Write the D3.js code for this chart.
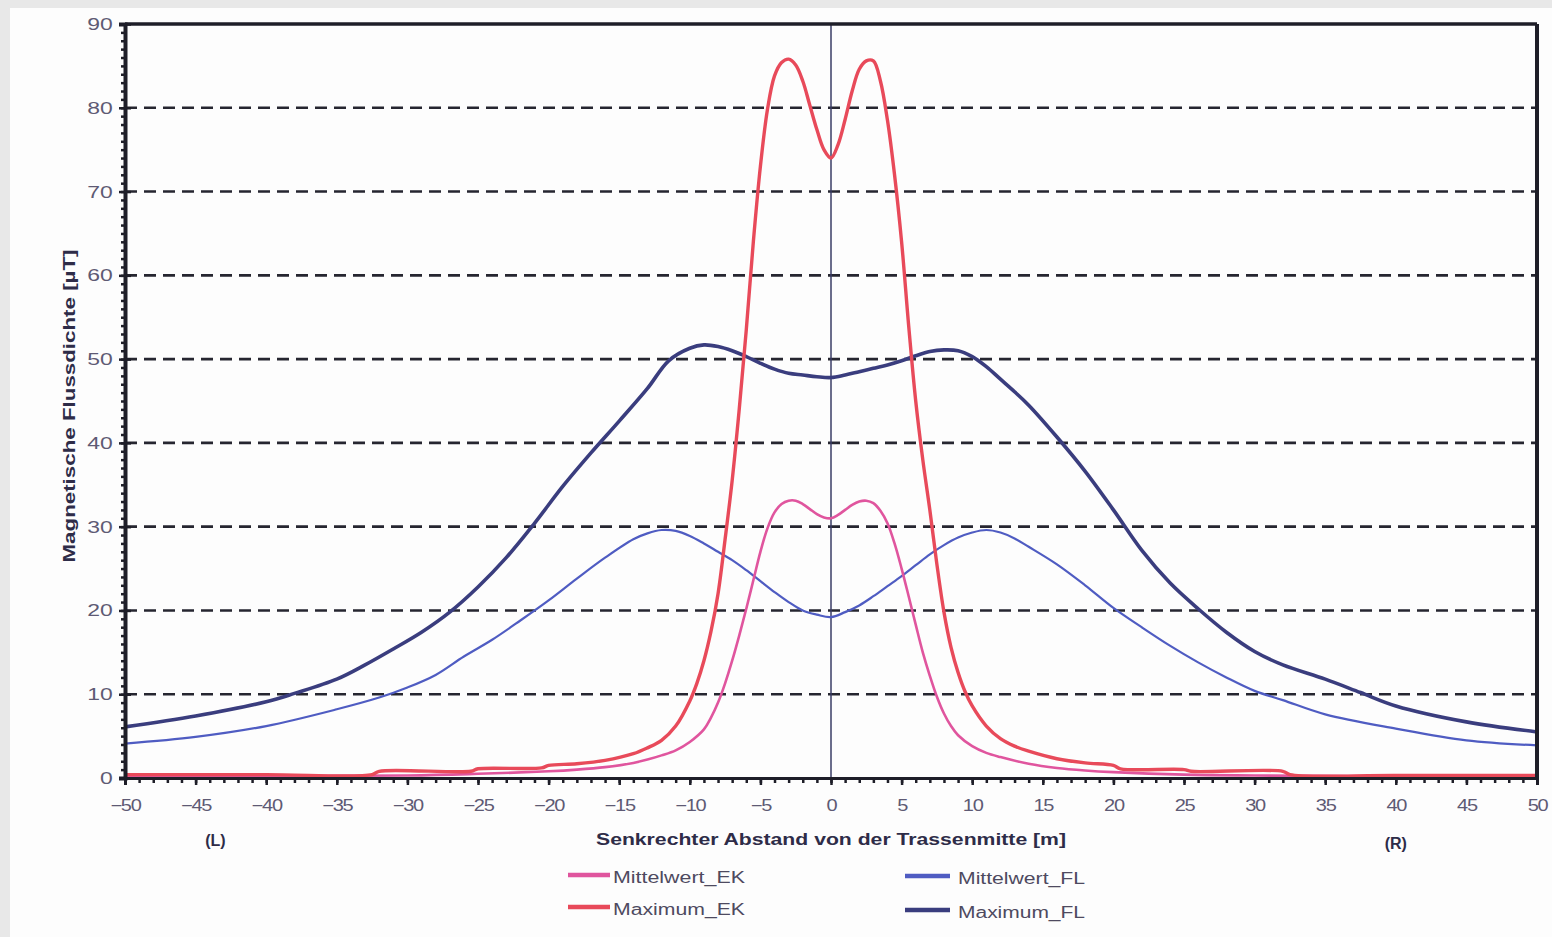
<!DOCTYPE html>
<html>
<head>
<meta charset="utf-8">
<script src="https://cdn.jsdelivr.net/npm/d3@7"></script>
<style>
  body { margin: 0; background: #e8e8e8; }
  svg { display: block; }
  text { font-family: "Liberation Sans", Arial, sans-serif; }
</style>
</head>
<body>
<svg id="chart" width="1552" height="937"></svg>
<script>
const width = 1552, height = 937;
const margin = { left: 125, top: 24, right: 15, bottom: 159 };

// x ticks and y ticks as printed
const xTicks = [-50, -45, -40, -35, -30, -25, -20, -15, -10, -5, 0, 5, 10, 15, 20, 25, 30, 35, 40, 45, 50];
const yTicks = [0, 10, 20, 30, 40, 50, 60, 70, 80, 90];
const gridValues = [10, 20, 30, 40, 50, 60, 70, 80];

// Mittelwert_EK
const mittelEkX = [-50, -30, -25, -20, -18, -16, -14, -13, -12, -11, -10, -9, -8.5, -8, -7.5, -7, -6.5, -6, -5.5, -5, -4.5, -4, -3.5, -3, -2.5, -2, -1.5, -1, -0.5, 0, 0.5, 1, 1.5, 2, 2.5, 3, 3.5, 4, 4.5, 5, 5.5, 6, 6.5, 7, 7.5, 8, 8.5, 9, 10, 11, 12, 14, 16, 18, 20, 25, 30, 40, 50];
const mittelEkY = [0.2, 0.3, 0.5, 0.8, 1.0, 1.3, 1.8, 2.2, 2.7, 3.3, 4.3, 5.8, 7.2, 9, 11.3, 14, 17, 20.2, 23.6, 27, 29.8, 31.7, 32.7, 33.1, 33.1, 32.7, 32.1, 31.5, 31.1, 31.0, 31.4, 32.0, 32.6, 33.0, 33.1, 32.8, 31.9, 30.4, 28, 25, 21.7, 18.3, 15, 12.2, 9.7, 7.7, 6.2, 5.1, 3.8, 3.0, 2.5, 1.7, 1.2, 0.9, 0.7, 0.4, 0.3, 0.2, 0.2];

// Maximum_EK
const maxEkX = [-50, -40, -32.5, -32, -25.5, -25, -20.5, -20, -18, -16, -14, -13, -12, -11, -10, -9.5, -9, -8.5, -8, -7.5, -7, -6.5, -6, -5.5, -5, -4.5, -4, -3.5, -3, -2.5, -2, -1.5, -1, -0.5, 0, 0.5, 1, 1.5, 2, 2.5, 3, 3.5, 4, 4.5, 5, 5.5, 6, 6.5, 7, 7.5, 8, 8.5, 9, 9.5, 10, 11, 12, 13, 14, 16, 18, 20, 20.5, 25, 25.5, 32, 32.5, 40, 50];
const maxEkY = [0.4, 0.4, 0.4, 0.8, 0.8, 1.1, 1.2, 1.5, 1.7, 2.1, 2.9, 3.6, 4.5, 6.2, 9.2, 11.3, 14, 17.5, 22, 28.5, 35.5, 44, 53.5, 64, 73, 79.8, 83.8, 85.4, 85.8, 85.1, 83.2, 80.3, 77.4, 75, 74, 75.6, 78.6, 82, 84.6, 85.6, 85.6, 83.2, 78.5, 72, 64, 54, 45, 38, 32, 25.5, 19.8, 15.6, 12.6, 10.3, 8.6, 6.2, 4.7, 3.8, 3.2, 2.3, 1.8, 1.5, 1.1, 1.0, 0.8, 0.8, 0.4, 0.3, 0.3];

// Mittelwert_FL
const mittelFlX = [-50, -45, -40, -35, -32, -30, -28, -26, -24, -22, -20, -18, -16, -14, -13, -12, -11, -10, -9, -8, -7, -6, -5, -4, -3, -2, -1, 0, 1, 2, 3, 4, 5, 6, 7, 8, 9, 10, 11, 12, 13, 14, 16, 18, 20, 22, 24, 26, 28, 30, 32, 35, 40, 45, 50];
const mittelFlY = [4.1, 4.9, 6.2, 8.2, 9.6, 10.8, 12.3, 14.5, 16.5, 18.8, 21.2, 23.8, 26.3, 28.5, 29.2, 29.6, 29.5, 28.9, 28, 27, 26, 24.8, 23.5, 22.2, 21, 20, 19.5, 19.2, 19.8, 20.6, 21.7, 22.9, 24.1, 25.4, 26.7, 27.8, 28.7, 29.3, 29.6, 29.3, 28.6, 27.6, 25.5, 23, 20.3, 18, 15.8, 13.8, 12, 10.4, 9.3, 7.6, 5.9, 4.5, 3.9];

// Maximum_FL
const maxFlX = [-50, -45, -40, -38, -35, -33, -31, -29, -27, -25, -23, -21, -19, -17, -15, -13, -11.5, -10, -9, -8, -7, -6, -5, -4, -3, -2, -1, 0, 1, 2, 3, 4, 5, 6, 7, 8, 9, 10, 11, 12, 13, 14, 16, 18, 20, 22, 24, 26, 28, 30, 32, 35, 37.5, 40, 45, 50];
const maxFlY = [6.1, 7.4, 9.1, 10.1, 11.8, 13.5, 15.4, 17.4, 19.8, 22.8, 26.3, 30.4, 34.8, 38.8, 42.6, 46.5, 49.8, 51.3, 51.7, 51.5, 51, 50.3, 49.5, 48.8, 48.3, 48.1, 47.9, 47.8, 48.1, 48.5, 48.9, 49.3, 49.8, 50.4, 50.9, 51.1, 51, 50.3, 49.1, 47.6, 46.1, 44.5, 40.7, 36.6, 32, 27.2, 23.3, 20.2, 17.4, 15.1, 13.5, 11.8, 10.2, 8.6, 6.7, 5.5];

const series = [
  { name: "Mittelwert_FL", xs: mittelFlX, ys: mittelFlY, color: "#4f5cc2", w: 2.2 },
  { name: "Maximum_FL", xs: maxFlX, ys: maxFlY, color: "#3a3d7e", w: 3.6 },
  { name: "Mittelwert_EK", xs: mittelEkX, ys: mittelEkY, color: "#e0559e", w: 2.6 },
  { name: "Maximum_EK", xs: maxEkX, ys: maxEkY, color: "#e84a5a", w: 3.4 }
];

const plotW = 1537 - margin.left;
const plotH = 778 - margin.top;

const x = d3.scaleLinear().domain([-50, 50]).range([0, plotW]);
const y = d3.scaleLinear().domain([0, 90]).range([plotH, 0]);

const svg = d3.select("#chart");

// scanned page: grey edge, white paper
svg.append("rect").attr("width", width).attr("height", height).attr("fill", "#e8e8e8");
svg.append("rect").attr("x", 10).attr("y", 8).attr("width", width - 10).attr("height", height - 8).attr("fill", "#fdfdfd");

const chart = svg.append("g").attr("transform", `translate(${margin.left},${margin.top})`);

// dashed gridlines
chart.append("g")
  .selectAll("line")
  .data(gridValues)
  .join("line")
  .attr("x1", 0)
  .attr("x2", plotW)
  .attr("y1", d => y(d))
  .attr("y2", d => y(d))
  .attr("stroke", "#262630")
  .attr("stroke-width", 2.6)
  .attr("stroke-dasharray", "12,7");

// centre line
chart.append("line")
  .attr("x1", x(0)).attr("x2", x(0))
  .attr("y1", 0).attr("y2", plotH)
  .attr("stroke", "#3a3d66")
  .attr("stroke-width", 1.5);

// curves
const line = d3.line()
  .x(d => x(d[0]))
  .y(d => y(d[1]))
  .curve(d3.curveCatmullRom.alpha(0.5));

series.forEach(s => {
  chart.append("path")
    .datum(s.xs.map((v, i) => [v, s.ys[i]]))
    .attr("fill", "none")
    .attr("stroke", s.color)
    .attr("stroke-width", s.w)
    .attr("stroke-linejoin", "round")
    .attr("d", line);
});

// frame top and right
chart.append("line").attr("x1", 0).attr("x2", plotW).attr("y1", 0).attr("y2", 0)
  .attr("stroke", "#1e1e28").attr("stroke-width", 3.5);
chart.append("line").attr("x1", plotW).attr("x2", plotW).attr("y1", 0).attr("y2", plotH)
  .attr("stroke", "#1e1e28").attr("stroke-width", 4);

// minor ticks
let yMinor = d3.axisLeft(y).tickValues(d3.range(0, 91, 1)).tickSize(4).tickFormat("");
chart.append("g").call(yMinor)
  .call(g => g.select(".domain").remove())
  .selectAll("line").attr("stroke", "#1e1e28").attr("stroke-width", 2.5);

let xMinor = d3.axisBottom(x).tickValues(d3.range(-50, 51, 1)).tickSize(5).tickFormat("");
chart.append("g").attr("transform", `translate(0,${plotH})`).call(xMinor)
  .call(g => g.select(".domain").remove())
  .selectAll("line").attr("stroke", "#1e1e28").attr("stroke-width", 2.5);

// y axis
let yAxis = d3.axisLeft(y).tickValues(yTicks).tickSize(6).tickPadding(11);
chart.append("g")
  .call(yAxis)
  .call(g => g.select(".domain").attr("stroke", "#1e1e28").attr("stroke-width", 4))
  .call(g => g.selectAll(".tick line").attr("stroke", "#1e1e28").attr("stroke-width", 2.5).attr("x2", 6).attr("x1", -6))
  .selectAll(".tick text")
  .attr("fill", "#5e5a74")
  .attr("font-size", 17)
  .attr("transform", "scale(1.35,1)")
  .attr("x", -9);

// x axis
let xAxis = d3.axisBottom(x).tickValues(xTicks).tickSize(7).tickPadding(15);
chart.append("g")
  .attr("transform", `translate(0,${plotH})`)
  .call(xAxis)
  .call(g => g.select(".domain").attr("stroke", "#1e1e28").attr("stroke-width", 3))
  .call(g => g.selectAll(".tick line").attr("stroke", "#1e1e28").attr("stroke-width", 2.5))
  .selectAll(".tick text")
  .attr("fill", "#5e5a74")
  .attr("font-size", 16)
  .attr("letter-spacing", -1)
  .attr("transform", "scale(1.25,1)");

// (L) and (R)
chart.append("text")
  .attr("x", x(-43.6)).attr("y", plotH + 68)
  .attr("text-anchor", "middle")
  .attr("font-size", 16).attr("font-weight", "bold").attr("fill", "#2e2c48")
  .text("(L)");
chart.append("text")
  .attr("x", x(40)).attr("y", plotH + 71)
  .attr("text-anchor", "middle")
  .attr("font-size", 16).attr("font-weight", "bold").attr("fill", "#2e2c48")
  .text("(R)");

// axis titles
chart.append("text")
  .attr("x", x(0)).attr("y", plotH + 67)
  .attr("text-anchor", "middle")
  .attr("font-size", 17).attr("font-weight", "bold").attr("fill", "#2e2c48")
  .attr("textLength", 470).attr("lengthAdjust", "spacingAndGlyphs")
  .text("Senkrechter Abstand von der Trassenmitte [m]");

svg.append("text")
  .attr("transform", `translate(75,${406}) rotate(-90)`)
  .attr("text-anchor", "middle")
  .attr("font-size", 16).attr("font-weight", "bold").attr("fill", "#2e2c48")
  .attr("textLength", 313).attr("lengthAdjust", "spacingAndGlyphs")
  .text("Magnetische Flussdichte  [µT]");

// legend
const legendItems = [
  { s: series[2], lx: 568, ly: 875, tl: 132 },
  { s: series[3], lx: 568, ly: 907, tl: 132 },
  { s: series[0], lx: 905, ly: 876, tl: 127 },
  { s: series[1], lx: 905, ly: 910, tl: 127 }
];
const legend = svg.append("g");
legendItems.forEach(d => {
  legend.append("line")
    .attr("x1", d.lx).attr("x2", d.lx + (d.lx > 800 ? 45 : 42))
    .attr("y1", d.ly).attr("y2", d.ly)
    .attr("stroke", d.s.color).attr("stroke-width", 4.5);
  legend.append("text")
    .attr("x", d.lx + (d.lx > 800 ? 53 : 45)).attr("y", d.ly + 8)
    .attr("font-size", 16).attr("fill", "#4e4a60")
    .attr("textLength", d.tl).attr("lengthAdjust", "spacingAndGlyphs")
    .text(d.s.name);
});
</script>
</body>
</html>
